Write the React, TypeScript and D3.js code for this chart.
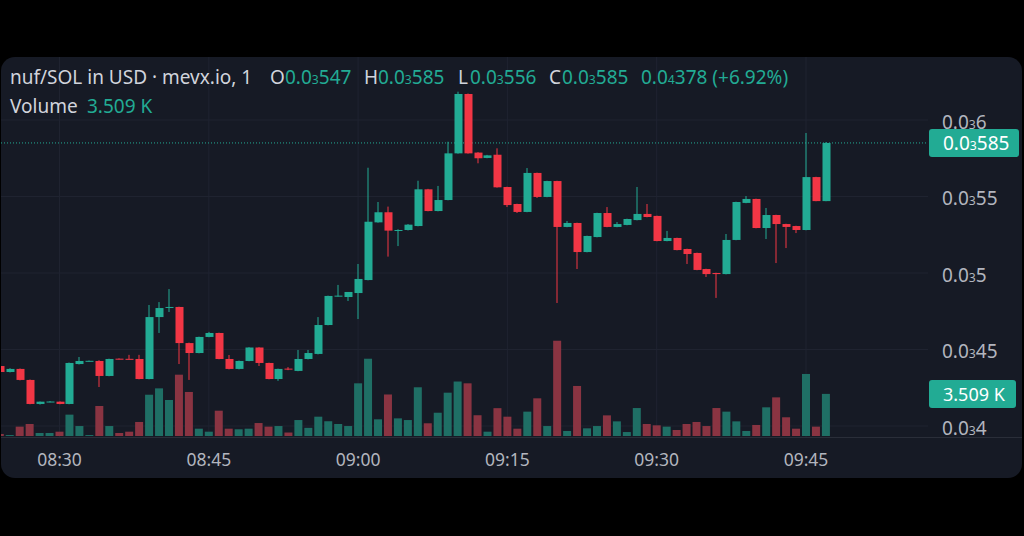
import React from "react";
import * as d3 from "d3";

// price values are in units of 1e-6 USD (0.0₃585 = 0.000585 -> 585)
const times = [
  "08:24","08:25","08:26","08:27","08:28","08:29","08:30","08:31","08:32","08:33",
  "08:34","08:35","08:36","08:37","08:38","08:39","08:40","08:41","08:42","08:43",
  "08:44","08:45","08:46","08:47","08:48","08:49","08:50","08:51","08:52","08:53",
  "08:54","08:55","08:56","08:57","08:58","08:59","09:00","09:01","09:02","09:03",
  "09:04","09:05","09:06","09:07","09:08","09:09","09:10","09:11","09:12","09:13",
  "09:14","09:15","09:16","09:17","09:18","09:19","09:20","09:21","09:22","09:23",
  "09:24","09:25","09:26","09:27","09:28","09:29","09:30","09:31","09:32","09:33",
  "09:34","09:35","09:36","09:37","09:38","09:39","09:40","09:41","09:42","09:43",
  "09:44","09:45","09:46","09:47",
];
const opens = [
  439.2,435.3,437.3,430.1,414.4,415.9,415.9,414.4,440.5,442.4,
  442.5,432.7,444.0,443.9,443.8,430.7,471.2,477.2,477.8,454.2,
  447.7,458.2,460.8,443.8,437.3,442.5,451.3,441.2,430.7,437.5,
  436.0,443.8,447.1,466.0,485.0,484.3,486.9,495.4,533.1,539.7,
  527.7,528.1,530.7,554.7,540.5,547.7,578.2,617.0,578.7,575.2,
  577.3,556.2,545.1,539.9,565.4,549.7,560.1,530.1,532.7,513.7,
  523.5,539.2,530.1,531.4,534.6,538.6,537.3,520.9,522.9,515.7,
  513.1,502.6,500.0,499.3,521.6,545.8,548.4,529.4,537.9,532.0,
  530.7,528.1,562.7,547.0,
];
const highs = [
  440.0,437.8,437.6,430.4,416.0,416.3,416.1,441.5,445.1,442.8,
  443.0,444.0,444.2,446.5,446.5,479.1,481.0,489.5,478.0,454.5,
  458.4,461.5,461.0,446.4,442.8,451.5,451.5,441.4,437.5,438.5,
  449.7,449.7,471.2,485.2,492.2,487.6,505.9,568.8,546.4,543.4,
  528.6,532.0,560.3,555.0,556.9,585.8,618.5,617.3,579.0,577.2,
  581.5,556.4,545.3,568.6,565.6,560.3,560.3,534.0,532.9,524.4,
  539.4,543.1,533.3,535.5,556.2,545.1,537.5,527.5,523.1,515.9,
  513.3,502.8,500.2,525.5,546.6,550.3,548.6,542.5,538.1,532.2,
  530.9,591.5,562.9,585.6,
];
const lows = [
  434.8,435.0,429.8,414.2,414.0,415.5,414.2,414.2,440.2,442.2,
  425.5,432.5,443.5,443.6,430.5,430.5,460.8,474.5,440.5,430.1,
  447.5,458.0,443.6,437.0,437.0,442.3,439.2,430.5,429.5,436.5,
  435.8,443.5,446.8,465.8,484.6,481.7,469.9,495.2,532.9,510.7,
  517.6,527.8,530.5,540.3,540.3,547.5,578.0,578.0,571.7,575.0,
  555.8,543.1,539.2,539.7,549.0,549.5,480.4,529.9,502.6,513.5,
  523.3,529.9,529.9,531.2,534.4,536.4,520.7,520.7,514.8,505.9,
  501.8,497.4,483.7,499.1,521.4,545.6,529.2,522.2,506.5,516.3,
  526.1,527.9,546.9,546.9,
];
const closes = [
  435.3,437.3,430.1,414.4,415.9,416.0,414.4,441.2,442.5,442.6,
  432.7,443.8,443.8,443.8,430.7,471.2,477.1,477.8,454.2,447.7,
  458.2,460.8,443.8,437.3,442.5,451.3,441.2,430.7,437.3,437.3,
  443.8,447.7,466.0,485.0,485.2,487.6,496.1,533.5,539.7,527.7,
  528.1,531.6,554.7,540.5,547.7,578.2,617.0,578.2,575.0,576.9,
  556.0,544.4,539.9,565.4,549.7,560.1,530.1,532.7,513.7,524.2,
  539.2,530.1,532.0,535.3,538.6,536.6,520.9,522.9,515.0,512.4,
  502.0,499.3,499.3,521.6,546.4,548.4,529.4,537.9,532.0,530.1,
  528.1,562.7,547.0,585.0,
];
// volume in thousands
const volumes = [
  0.17,0.08,0.78,1.00,0.25,0.25,0.36,1.78,0.83,0.08,
  2.50,0.83,0.25,0.36,1.17,3.44,3.97,3.00,5.11,3.67,
  0.61,0.36,2.11,0.61,0.56,0.61,1.08,0.78,0.83,0.29,
  1.33,0.68,1.61,1.23,1.00,0.83,4.39,6.44,1.39,3.46,
  1.47,1.33,4.06,1.06,1.94,3.61,4.54,4.39,1.73,0.36,
  2.32,1.61,0.61,2.03,3.14,0.83,7.94,0.42,4.17,0.64,
  0.83,1.72,1.22,0.33,2.33,1.00,0.89,0.78,0.50,1.00,
  1.17,0.83,2.33,2.03,1.22,0.42,0.92,2.39,3.22,1.56,
  0.61,5.17,0.78,3.509,
];
const priceTicks = [400, 450, 500, 550, 600];
const timeTicks = ["08:30", "08:45", "09:00", "09:15", "09:30", "09:45"];
const lastPrice = 585;
const lastVolumeLabel = "3.509 K";

const UP = "#22ab94";
const DOWN = "#f23645";
const UP_VOL = "#1f6f65";
const DOWN_VOL = "#8a3442";
const BG = "#161a25";
const GRID = "#1f2330";
const AXIS_TEXT = "#b2b5be";
const FONT = "'Noto Sans', sans-serif";

const toMin = (t: string) => {
  const [h, m] = t.split(":").map(Number);
  return h * 60 + m;
};

function SubNum({ zeros, digits }: { zeros: string; digits: string }) {
  return (
    <>
      <tspan>0.0</tspan>
      <tspan fontSize="0.64em">{zeros}</tspan>
      <tspan>{digits}</tspan>
    </>
  );
}

const digitsOf = (v: number) => String(Math.round(v)).replace(/0+$/, "");

export default function App() {
  React.useEffect(() => {
    document.body.style.margin = "0";
    document.body.style.background = "#000";
  }, []);

  const W = 1024, H = 536;
  const plotRight = 928;
  const x = d3.scaleLinear().domain([toMin("08:30"), toMin("09:45")]).range([59.5, 806]);
  const y = d3.scaleLinear().domain([400, 600]).range([426, 120]);
  const yv = d3.scaleLinear().domain([0, 8]).range([436, 340]);
  const bw = 8;

  return (
    <svg width={W} height={H} style={{ display: "block", position: "absolute", left: 0, top: 0 }} fontFamily={FONT}>
      <rect x={0} y={0} width={W} height={H} fill="#000" />
      <rect x={1} y={57} width={1021} height={421} rx={14} fill={BG} />
      <defs>
        <clipPath id="plot">
          <rect x={1} y={57} width={plotRight - 1} height={380} />
        </clipPath>
      </defs>
      {/* grid */}
      {timeTicks.map((t) => (
        <line key={t} x1={x(toMin(t))} x2={x(toMin(t))} y1={57} y2={437} stroke={GRID} strokeWidth={1} />
      ))}
      {priceTicks.map((p) => (
        <line key={p} x1={1} x2={plotRight} y1={y(p)} y2={y(p)} stroke={GRID} strokeWidth={1} />
      ))}
      <line x1={1} x2={1022} y1={437.5} y2={437.5} stroke="#2a2e39" strokeWidth={1} />

      <g clipPath="url(#plot)">
        {/* volume */}
        {times.map((t, i) => {
          const up = closes[i] >= opens[i];
          const cx = x(toMin(t));
          return (
            <rect key={"v" + t} x={cx - bw / 2} y={yv(volumes[i])} width={bw} height={yv(0) - yv(volumes[i])}
              fill={up ? UP_VOL : DOWN_VOL} />
          );
        })}
        {/* last price line */}
        <line x1={1} x2={plotRight} y1={y(lastPrice)} y2={y(lastPrice)} stroke={UP} strokeWidth={1} strokeDasharray="1 2" />
        {/* candles */}
        {times.map((t, i) => {
          const up = closes[i] >= opens[i];
          const c = up ? UP : DOWN;
          const cx = Math.round(x(toMin(t)));
          const top = y(Math.max(opens[i], closes[i]));
          const bot = y(Math.min(opens[i], closes[i]));
          return (
            <g key={"c" + t}>
              <line x1={cx} x2={cx} y1={y(highs[i])} y2={y(lows[i])} stroke={c} strokeWidth={1} />
              <rect x={cx - bw / 2 + 0.5} y={top} width={bw} height={Math.max(1, bot - top)} fill={c} />
            </g>
          );
        })}
      </g>

      {/* price axis */}
      {priceTicks.map((p) => (
        <text key={"pt" + p} x={942} y={y(p) + 8.5} fontSize={19} fill={AXIS_TEXT}>
          <SubNum zeros="3" digits={digitsOf(p)} />
        </text>
      ))}
      <rect x={929} y={129} width={90} height={28} rx={3} fill={UP} />
      <text x={943} y={y(lastPrice) + 7} fontSize={19} fill="#ffffff">
        <SubNum zeros="3" digits={digitsOf(lastPrice)} />
      </text>
      <rect x={929} y={380} width={87} height={28} rx={3} fill={UP} />
      <text x={943} y={401} fontSize={18} fill="#ffffff">{lastVolumeLabel}</text>

      {/* time axis */}
      {timeTicks.map((t) => (
        <text key={"tt" + t} x={x(toMin(t))} y={466} fontSize={17.5} fill={AXIS_TEXT} textAnchor="middle">{t}</text>
      ))}

      {/* header */}
      <g fontSize={19}>
        <text x={10} y={84} fill="#d1d4dc">nuf/SOL in USD · mevx.io, 1</text>
        <text x={270} y={84} fill="#d1d4dc">O</text>
        <text x={285} y={84} fill={UP}><SubNum zeros="3" digits="547" /></text>
        <text x={364} y={84} fill="#d1d4dc">H</text>
        <text x={378} y={84} fill={UP}><SubNum zeros="3" digits="585" /></text>
        <text x={458} y={84} fill="#d1d4dc">L</text>
        <text x={470} y={84} fill={UP}><SubNum zeros="3" digits="556" /></text>
        <text x={549} y={84} fill="#d1d4dc">C</text>
        <text x={562} y={84} fill={UP}><SubNum zeros="3" digits="585" /></text>
        <text x={641} y={84} fill={UP}><SubNum zeros="4" digits="378" /> (+6.92%)</text>
        <text x={10} y={113} fill="#d1d4dc">Volume</text>
        <text x={87} y={113} fill={UP}>3.509 K</text>
      </g>
    </svg>
  );
}
